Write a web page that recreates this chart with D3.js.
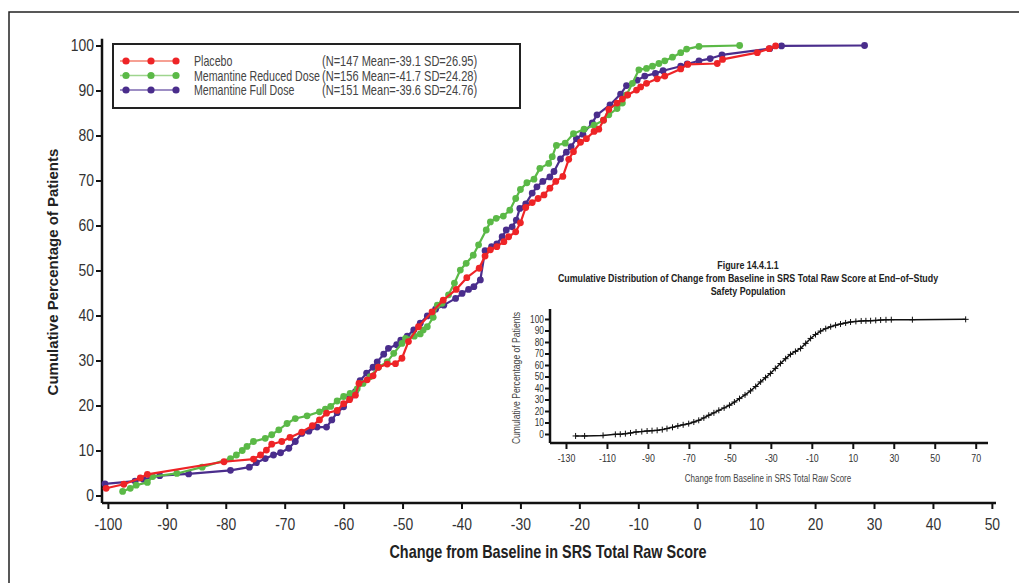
<!DOCTYPE html>
<html>
<head>
<meta charset="utf-8">
<script src="https://cdn.jsdelivr.net/npm/d3@7"></script>
<style>
  body { margin: 0; background: #fff; }
  svg { display: block; font-family: "Liberation Sans", Arial, sans-serif; }
</style>
</head>
<body>
<div id="chart"></div>
<script>
const W = 1019, H = 583

// main chart data: [change from baseline, cumulative %]
const placebo = [
  [-100.3, 1.6], [-97.3, 2.5], [-94.5, 3.9], [-93.3, 4.7], [-80.3, 7.5], [-75.3, 8.1],
  [-74.1, 9.0], [-73.1, 10.1], [-72.2, 11.4], [-70.5, 12.0], [-69.1, 12.9], [-67.1, 14.1],
  [-65.3, 15.5], [-64.1, 16.8], [-62.9, 18.3], [-61.1, 18.9], [-60.0, 20.4], [-59.0, 21.3],
  [-58.0, 22.3], [-57.4, 24.9], [-56.0, 25.7], [-55.0, 26.6], [-54.1, 28.5], [-52.6, 29.2],
  [-51.2, 29.3], [-50.1, 30.5], [-49.0, 34.2], [-47.3, 37.5], [-45.0, 40.8], [-43.1, 43.4],
  [-40.9, 45.8], [-39.1, 48.4], [-37.0, 50.5], [-36.0, 53.2], [-35.1, 54.6], [-34.0, 55.3],
  [-32.8, 56.4], [-32.0, 57.5], [-30.8, 58.6], [-30.0, 60.6], [-29.1, 64.0], [-28.0, 65.1],
  [-27.0, 66.0], [-26.0, 66.8], [-25.0, 68.3], [-24.0, 69.8], [-22.8, 70.9], [-21.8, 74.7],
  [-21.0, 76.4], [-19.8, 78.5], [-18.8, 79.3], [-17.5, 80.9], [-16.7, 81.4], [-15.9, 83.4],
  [-15.0, 85.8], [-13.6, 87.2], [-12.7, 88.1], [-11.8, 89.0], [-10.3, 90.1], [-9.6, 90.8],
  [-8.6, 91.6], [-6.8, 92.6], [-5.5, 93.2], [-2.8, 94.8], [-1.6, 95.8], [3.4, 96.0],
  [4.3, 96.9], [10.2, 98.4], [12.2, 99.3], [13.3, 99.9]
]

const reducedDose = [
  [-97.5, 0.9], [-96.2, 1.6], [-95.2, 2.3], [-93.3, 2.9], [-92.4, 4.2], [-88.3, 4.9],
  [-84.0, 6.3], [-79.2, 8.2], [-78.2, 9.0], [-77.2, 10.0], [-76.4, 10.9], [-75.3, 12.0],
  [-73.3, 12.7], [-72.2, 13.5], [-71.0, 14.6], [-69.6, 16.0], [-68.2, 17.1], [-66.2, 17.7],
  [-64.1, 18.6], [-63.1, 19.2], [-62.2, 19.8], [-61.1, 21.0], [-60.0, 22.0], [-58.9, 22.7],
  [-57.7, 23.7], [-56.7, 24.9], [-55.5, 26.4], [-54.1, 28.5], [-52.6, 29.7], [-51.5, 31.6],
  [-50.1, 33.8], [-49.5, 34.9], [-48.0, 35.4], [-47.0, 35.9], [-46.5, 36.8], [-45.8, 37.5],
  [-44.8, 39.6], [-44.1, 42.3], [-43.3, 42.7], [-42.2, 44.6], [-41.2, 47.2], [-40.2, 50.1],
  [-39.2, 51.6], [-38.0, 53.4], [-37.1, 55.7], [-35.8, 59.0], [-35.1, 60.8], [-34.1, 61.6],
  [-32.9, 62.1], [-31.8, 63.4], [-30.8, 66.0], [-30.0, 68.0], [-28.9, 69.5], [-27.7, 70.3],
  [-26.7, 72.7], [-25.2, 73.8], [-24.6, 75.3], [-23.9, 77.8], [-22.4, 78.3], [-21.0, 80.4],
  [-19.2, 81.4], [-17.5, 82.3], [-15.9, 83.4], [-15.0, 84.6], [-13.6, 86.0], [-12.7, 87.2],
  [-12.0, 89.0], [-11.0, 91.6], [-9.9, 94.6], [-8.6, 94.9], [-7.6, 95.4], [-6.5, 96.0],
  [-5.5, 96.6], [-4.2, 97.4], [-2.8, 98.4], [-1.8, 99.2], [0.3, 99.8], [7.2, 100.0]
]

const fullDose = [
  [-100.5, 2.6], [-95.4, 3.2], [-94.0, 3.6], [-91.2, 4.4], [-86.3, 4.8], [-79.2, 5.6],
  [-76.0, 6.3], [-74.8, 7.3], [-73.3, 8.2], [-71.9, 9.0], [-70.7, 9.5], [-69.3, 10.5],
  [-68.2, 12.0], [-67.1, 13.8], [-65.9, 14.3], [-64.5, 15.2], [-62.9, 15.2], [-62.0, 16.8],
  [-61.1, 18.4], [-60.0, 19.7], [-58.9, 21.7], [-58.0, 23.1], [-57.2, 25.5], [-56.1, 27.2],
  [-55.0, 28.5], [-54.3, 29.7], [-53.2, 31.4], [-52.4, 32.7], [-51.0, 33.5], [-50.3, 34.5],
  [-49.2, 35.4], [-48.1, 36.8], [-47.0, 38.3], [-45.8, 39.9], [-44.4, 41.4], [-43.0, 42.3],
  [-41.0, 43.8], [-39.9, 44.9], [-38.8, 45.8], [-37.9, 46.4], [-36.8, 47.9], [-36.0, 54.4],
  [-34.9, 55.3], [-34.0, 55.9], [-33.1, 57.5], [-32.4, 59.0], [-31.4, 59.7], [-30.7, 61.2],
  [-30.1, 63.8], [-29.1, 64.8], [-28.0, 67.2], [-27.2, 68.6], [-26.2, 69.8], [-25.0, 70.8],
  [-24.3, 72.0], [-23.2, 74.8], [-22.2, 76.3], [-21.4, 77.5], [-20.5, 79.3], [-19.4, 80.3],
  [-17.8, 82.8], [-17.0, 84.6], [-14.8, 86.8], [-13.0, 89.2], [-12.0, 91.1], [-10.2, 92.3],
  [-8.9, 93.2], [-7.1, 93.8], [-5.8, 94.4], [-2.8, 95.4], [-1.7, 95.9], [0.3, 96.6],
  [2.2, 97.1], [4.2, 97.9], [12.3, 99.3], [14.3, 99.9], [28.4, 100.0]
]

const seriesNames = ["Placebo", "Memantine Reduced Dose", "Memantine Full Dose"]
const seriesStats = ["(N=147 Mean=-39.1 SD=26.95)", "(N=156 Mean=-41.7 SD=24.28)", "(N=151 Mean=-39.6 SD=24.76)"]
const seriesColors = ["#ee2427", "#5bb947", "#4a2d8c"]
const legendLineColors = ["#f3806f", "#9fd58e", "#7d68b0"]

const xTicks = [-100, -90, -80, -70, -60, -50, -40, -30, -20, -10, 0, 10, 20, 30, 40, 50]
const yTicks = [0, 10, 20, 30, 40, 50, 60, 70, 80, 90, 100]

// inset (pooled) cumulative distribution
const insetData = [
  [-125.3, -1.7], [-120.9, -1.7], [-111.9, -1.2], [-105.9, -0.3], [-103.5, -0.2], [-101.0, 0.3],
  [-98.5, 0.9], [-95.8, 1.7], [-93.0, 2.1], [-90.4, 2.6], [-88.0, 2.9], [-85.5, 3.2],
  [-83.0, 3.8], [-80.7, 4.7], [-78.0, 5.8], [-75.4, 7.0], [-72.8, 8.0], [-70.1, 9.0],
  [-67.6, 10.4], [-65.2, 11.9], [-62.7, 14.0], [-60.3, 16.3], [-57.8, 18.4], [-55.4, 20.6],
  [-52.8, 22.7], [-50.2, 25.0], [-47.8, 27.8], [-45.3, 30.8], [-42.6, 34.0], [-39.9, 37.5],
  [-37.4, 41.3], [-35.0, 45.3], [-32.6, 49.0], [-30.2, 52.6], [-27.8, 57.0], [-25.3, 61.3],
  [-22.8, 65.5], [-20.4, 69.2], [-18.0, 71.8], [-15.5, 74.4], [-13.0, 78.8], [-10.6, 83.1],
  [-8.2, 86.5], [-5.7, 89.5], [-3.2, 91.6], [-0.8, 93.3], [1.6, 94.6], [4.0, 95.6],
  [6.5, 96.6], [8.9, 97.4], [11.5, 97.9], [14.1, 98.3], [16.4, 98.4], [18.7, 98.5],
  [21.2, 98.8], [23.6, 99.1], [26.2, 99.3], [28.8, 99.4], [39.1, 99.4], [65.1, 99.7]
]
const insetXTicks = [-130, -110, -90, -70, -50, -30, -10, 10, 30, 50, 70]
const insetYTicks = [0, 10, 20, 30, 40, 50, 60, 70, 80, 90, 100]
const insetTitle = ["Figure 14.4.1.1",
  "Cumulative Distribution of Change from Baseline in SRS Total Raw Score at End\u2013of\u2013Study",
  "Safety Population"]

const svg = d3.select("#chart").append("svg")
  .attr("width", W).attr("height", H)

// no condensed font installed, so squeeze text horizontally
function narrowText(parent, x, y, str, scale) {
  return parent.append("text")
    .attr("transform", `translate(${x},${y}) scale(${scale},1)`)
    .text(str)
}

function styleAxis(ax, fontSize, scale, tickW, color, isY, offset) {
  ax.select(".domain").attr("stroke", "#111").attr("stroke-width", tickW + 0.5)
  ax.selectAll(".tick line").attr("stroke", "#111").attr("stroke-width", tickW)
  const t = ax.selectAll(".tick text")
    .attr("font-family", "'Liberation Sans', Arial, sans-serif")
    .attr("font-size", fontSize)
    .attr("fill", color)
    .attr("transform", `scale(${scale},1)`)
  if (isY) t.attr("x", -offset / scale)
}

// outer frame (runs off the right/bottom edge)
svg.append("rect")
  .attr("x", 9).attr("y", 12).attr("width", 1100).attr("height", 700)
  .attr("fill", "none").attr("stroke", "#222").attr("stroke-width", 1.5)

// ---------- main chart ----------
const x = d3.scaleLinear().domain([-101, 50.7]).range([102, 996])
const y = d3.scaleLinear().domain([0, 100]).range([495.5, 45.5])
const AXIS_Y = 503, AXIS_X = 102

const xAxis = svg.append("g")
  .attr("transform", `translate(0, ${AXIS_Y})`)
  .call(d3.axisBottom(x).tickValues(xTicks).tickFormat(d => d)
    .tickSize(6).tickSizeOuter(0).tickPadding(6))
const yAxis = svg.append("g")
  .attr("transform", `translate(${AXIS_X}, 0)`)
  .call(d3.axisLeft(y).tickValues(yTicks).tickFormat(d => d)
    .tickSize(6).tickSizeOuter(0))

// extend axis lines to meet at the corner
xAxis.select(".domain").attr("d", `M${AXIS_X},0H996`)
yAxis.select(".domain").attr("d", `M0,${y(101.5)}V${AXIS_Y}`)

styleAxis(xAxis, 17, 0.82, 2, "#333", false)
styleAxis(yAxis, 17, 0.82, 2, "#333", true, 8)
xAxis.selectAll(".tick text").attr("dy", "0.9em")

narrowText(svg, 548, 558, "Change from Baseline in SRS Total Raw Score", 0.8)
  .attr("text-anchor", "middle")
  .attr("font-size", 18).attr("font-weight", "bold").attr("fill", "#222")

svg.append("text")
  .attr("transform", `translate(58, 272) rotate(-90)`)
  .attr("text-anchor", "middle")
  .attr("font-size", 15).attr("font-weight", "bold").attr("fill", "#222")
  .text("Cumulative Percentage of Patients")

const line = d3.line().x(d => x(d[0])).y(d => y(d[1]))
const allSeries = [placebo, reducedDose, fullDose]

// draw purple first, then green, red on top
const order = [2, 1, 0]
order.forEach(i => {
  const g = svg.append("g")
  g.append("path")
    .datum(allSeries[i])
    .attr("d", line)
    .attr("fill", "none")
    .attr("stroke", seriesColors[i])
    .attr("stroke-width", 2.2)
    .attr("stroke-linejoin", "round")
  g.selectAll("circle")
    .data(allSeries[i])
    .join("circle")
    .attr("cx", d => x(d[0]))
    .attr("cy", d => y(d[1]))
    .attr("r", 3.4)
    .attr("fill", seriesColors[i])
})

// legend
const legend = svg.append("g")
legend.append("rect")
  .attr("x", 113).attr("y", 44).attr("width", 407).attr("height", 64)
  .attr("fill", "#fff").attr("stroke", "#222").attr("stroke-width", 2)

seriesNames.forEach((name, i) => {
  const ly = 61 + i * 14.5
  legend.append("line")
    .attr("x1", 120).attr("x2", 176).attr("y1", ly).attr("y2", ly)
    .attr("stroke", legendLineColors[i]).attr("stroke-width", 1.5)
  legend.selectAll(null)
    .data([126, 151, 176])
    .join("circle")
    .attr("cx", d => d).attr("cy", ly).attr("r", 3.6)
    .attr("fill", seriesColors[i])
  narrowText(legend, 194, ly + 5, name, 0.76)
    .attr("font-size", 14).attr("fill", "#444")
  narrowText(legend, 322, ly + 5, seriesStats[i], 0.79)
    .attr("font-size", 14).attr("fill", "#444")
})

// ---------- inset ----------
const ix = d3.scaleLinear().domain([-137.8, 76]).range([550, 988])
const iy = d3.scaleLinear().domain([0, 100]).range([434, 319])

insetTitle.forEach((t, i) => {
  narrowText(svg, 748, 269 + i * 13, t, 0.77)
    .attr("text-anchor", "middle")
    .attr("font-size", 11.5).attr("font-weight", "bold").attr("fill", "#222")
})

const ixAxis = svg.append("g")
  .attr("transform", "translate(0, 443)")
  .call(d3.axisBottom(ix).tickValues(insetXTicks).tickFormat(d => d)
    .tickSize(6).tickSizeOuter(0).tickPadding(5))
const iyAxis = svg.append("g")
  .attr("transform", "translate(550, 0)")
  .call(d3.axisLeft(iy).tickValues(insetYTicks).tickFormat(d => d)
    .tickSize(5).tickSizeOuter(0))
ixAxis.select(".domain").attr("d", "M550,0H988")
iyAxis.select(".domain").attr("d", "M0,309V443")
styleAxis(ixAxis, 11, 0.8, 2, "#333", false)
styleAxis(iyAxis, 10.5, 0.8, 2, "#333", true, 6)

narrowText(svg, 768, 482, "Change from Baseline in SRS Total Raw Score", 0.8)
  .attr("text-anchor", "middle")
  .attr("font-size", 10).attr("fill", "#444")
svg.append("text")
  .attr("transform", "translate(520, 378) rotate(-90) scale(0.86,1)")
  .attr("text-anchor", "middle")
  .attr("font-size", 10).attr("fill", "#444")
  .text("Cumulative Percentage of Patients")

const iline = d3.line().x(d => ix(d[0])).y(d => iy(d[1]))
svg.append("path")
  .datum(insetData)
  .attr("d", iline)
  .attr("fill", "none").attr("stroke", "#111").attr("stroke-width", 1.5)
svg.append("g").selectAll("path")
  .data(insetData)
  .join("path")
  .attr("d", d => `M${ix(d[0]) - 3},${iy(d[1])}h6M${ix(d[0])},${iy(d[1]) - 3}v6`)
  .attr("stroke", "#111").attr("stroke-width", 1)
</script>
</body>
</html>
